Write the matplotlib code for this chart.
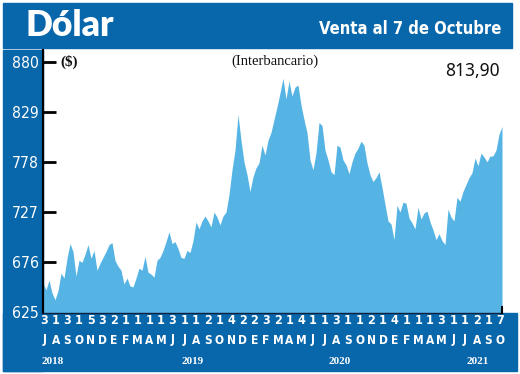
import numpy as np
import matplotlib
matplotlib.use("Agg")
import matplotlib.pyplot as plt
from matplotlib.patches import Rectangle
from matplotlib.font_manager import fontManager

# ---------------- data ----------------
values = [655, 648, 658, 645, 638, 647, 665, 660, 680, 695, 687, 662, 678, 676, 684, 694,
          680, 688, 668, 675, 681, 687, 694, 696, 678, 672, 668, 654, 660, 652, 651, 660,
          670, 668, 682, 666, 664, 661, 678, 681, 688, 697, 707, 695, 697, 690, 681, 680,
          688, 686, 698, 717, 710, 718, 723, 718, 712, 727, 722, 714, 723, 727, 745, 770,
          790, 826, 800, 778, 765, 748, 763, 772, 777, 795, 785, 800, 808, 821, 834, 848,
          863, 842, 860, 845, 854, 856, 836, 821, 808, 780, 770, 787, 818, 815, 790, 780,
          768, 765, 795, 793, 780, 775, 766, 778, 787, 792, 799, 795, 777, 765, 758, 762,
          768, 752, 735, 718, 715, 699, 734, 727, 737, 736, 721, 716, 710, 732, 720, 726,
          728, 717, 709, 699, 705, 698, 694, 730, 722, 718, 742, 738, 748, 755, 762, 767,
          782, 774, 787, 783, 778, 784, 784, 790, 806, 814]
day_labels = ["3", "1", "3", "1", "5", "3", "2", "1", "1", "1", "1", "3", "1", "1", "2", "1",
              "4", "2", "2", "3", "2", "1", "4", "1", "1", "3", "1", "1", "2", "1", "4", "1",
              "1", "1", "3", "1", "1", "2", "1", "7"]
month_labels = ["J", "A", "S", "O", "N", "D",
                "E", "F", "M", "A", "M", "J", "J", "A", "S", "O", "N", "D",
                "E", "F", "M", "A", "M", "J", "J", "A", "S", "O", "N", "D",
                "E", "F", "M", "A", "M", "J", "J", "A", "S", "O"]
years = ["2018", "2019", "2020", "2021"]
year_month_pos = [0.7, 12.7, 25.3, 37.1]   # position in month-label units
yticks = [625, 676, 727, 778, 829, 880]
title = "Dólar"
subtitle = "Venta al 7 de Octubre"
last_value = "813,90"

# ---------------- fonts ----------------
names = {f.name for f in fontManager.ttflist}
if "Liberation Sans Narrow" in names:
    NARROW = dict(fontfamily="Liberation Sans Narrow")
    NARROW_SCALE = 1.0
elif any(f.name == "DejaVu Sans" and f.stretch in ("condensed", "semi-condensed")
         for f in fontManager.ttflist):
    NARROW = dict(fontfamily="DejaVu Sans", fontstretch="condensed")
    NARROW_SCALE = 0.9
else:
    NARROW = dict(fontfamily="Liberation Sans")
    NARROW_SCALE = 0.88

BLUE = "#0866ab"
FILL = "#56b4e4"

W, H = 520, 374
fig = plt.figure(figsize=(W / 100, H / 100), dpi=100)
fig.patch.set_facecolor("white")

def px_rect(x0, y0, x1, y1, color):
    fig.patches.append(Rectangle((x0 / W, 1 - y1 / H), (x1 - x0) / W, (y1 - y0) / H,
                                 transform=fig.transFigure, color=color, zorder=-5))

px_rect(3, 3, 512, 48, BLUE)      # header band
px_rect(3, 50, 43, 371, BLUE)     # left strip
px_rect(3, 313, 517, 371, BLUE)   # bottom band

N = len(values)
x = np.arange(N)
x_end_px, x0_px, x_right_px = 502, 43, 517
per_px = (N - 1) / (x_end_px - x0_px)

ax = fig.add_axes([x0_px / W, (H - 312.5) / H, (x_right_px - x0_px) / W, (312.5 - 50) / H])
ax.set_zorder(2)
ax.set_facecolor("none")
ax.fill_between(x, values, 600, color=FILL, lw=0, zorder=2)
ax.set_xlim(0, (x_right_px - x0_px) * per_px)
ax.set_ylim(625, 880 + 11.5 * 51 / 50.2)

for s in ["top", "right"]:
    ax.spines[s].set_visible(False)
ax.spines["left"].set_linewidth(1.6)
ax.spines["left"].set_color("black")
ax.spines["bottom"].set_bounds(0, N - 1)
ax.spines["bottom"].set_linewidth(1.0)
ax.spines["bottom"].set_color("#102040")
ax.spines["bottom"].set_zorder(3)

ysize = 12.5 * NARROW_SCALE
ax.set_yticks(yticks)
ax.set_yticklabels([str(v) for v in yticks])
ax.tick_params(axis="y", direction="in", length=9, width=2, color="black",
               labelcolor="white", labelsize=ysize, pad=3)
for t in ax.get_yticklabels():
    t.set(**NARROW)
ax.yaxis.get_major_ticks()[0].tick1line.set_visible(False)

# month positions (in data units)
p_first = (44 - x0_px) * per_px
p_last = (500 - x0_px) * per_px
mpos = np.linspace(p_first, p_last, len(month_labels))
ax.set_xticks(mpos)
ax.set_xticklabels(day_labels)
ax.tick_params(axis="x", length=0, pad=1, labelcolor="white", labelsize=10 * NARROW_SCALE)
for t in ax.get_xticklabels():
    t.set(**NARROW)
    t.set_fontweight("bold")
# end marker
ax.plot([N - 1, N - 1], [625, 631], color="black", lw=1.5, zorder=4, clip_on=False)

xt = ax.get_xaxis_transform()
ah = 312.5 - 50
for p, m in zip(mpos, month_labels):
    ax.text(p, -(340 - 312.5) / ah, m, transform=xt, ha="center", va="center",
            color="white", fontsize=9.5 * NARROW_SCALE, fontweight="bold", **NARROW)
step = (p_last - p_first) / (len(month_labels) - 1)
for yr, mp in zip(years, year_month_pos):
    ax.text(p_first + mp * step, -(361 - 312.5) / ah, yr, transform=xt, ha="center",
            va="center", color="white", fontsize=8, fontweight="bold",
            fontfamily="Liberation Serif")

# texts
fig.text(25 / W, 1 - 26 / H, title, color="white", fontsize=25.5, fontweight="heavy",
         fontfamily="Lato", ha="left", va="center")
fig.text(501 / W, 1 - 29 / H, subtitle, color="white", fontsize=13.2 * NARROW_SCALE,
         fontweight="bold", ha="right", va="center", **NARROW)
fig.text(275 / W, 1 - 61 / H, "(Interbancario)", color="#111111", fontsize=10.5,
         fontfamily="Liberation Serif", ha="center", va="center")
fig.text(60 / W, 1 - 62 / H, "($)", color="#111111", fontsize=11, fontweight="bold",
         fontfamily="Liberation Serif", ha="left", va="center")
fig.text(500 / W, 1 - 71 / H, last_value, color="#111111", fontsize=12.5,
         fontfamily="Noto Sans", ha="right", va="center")

fig.savefig("out.png", dpi=100)
